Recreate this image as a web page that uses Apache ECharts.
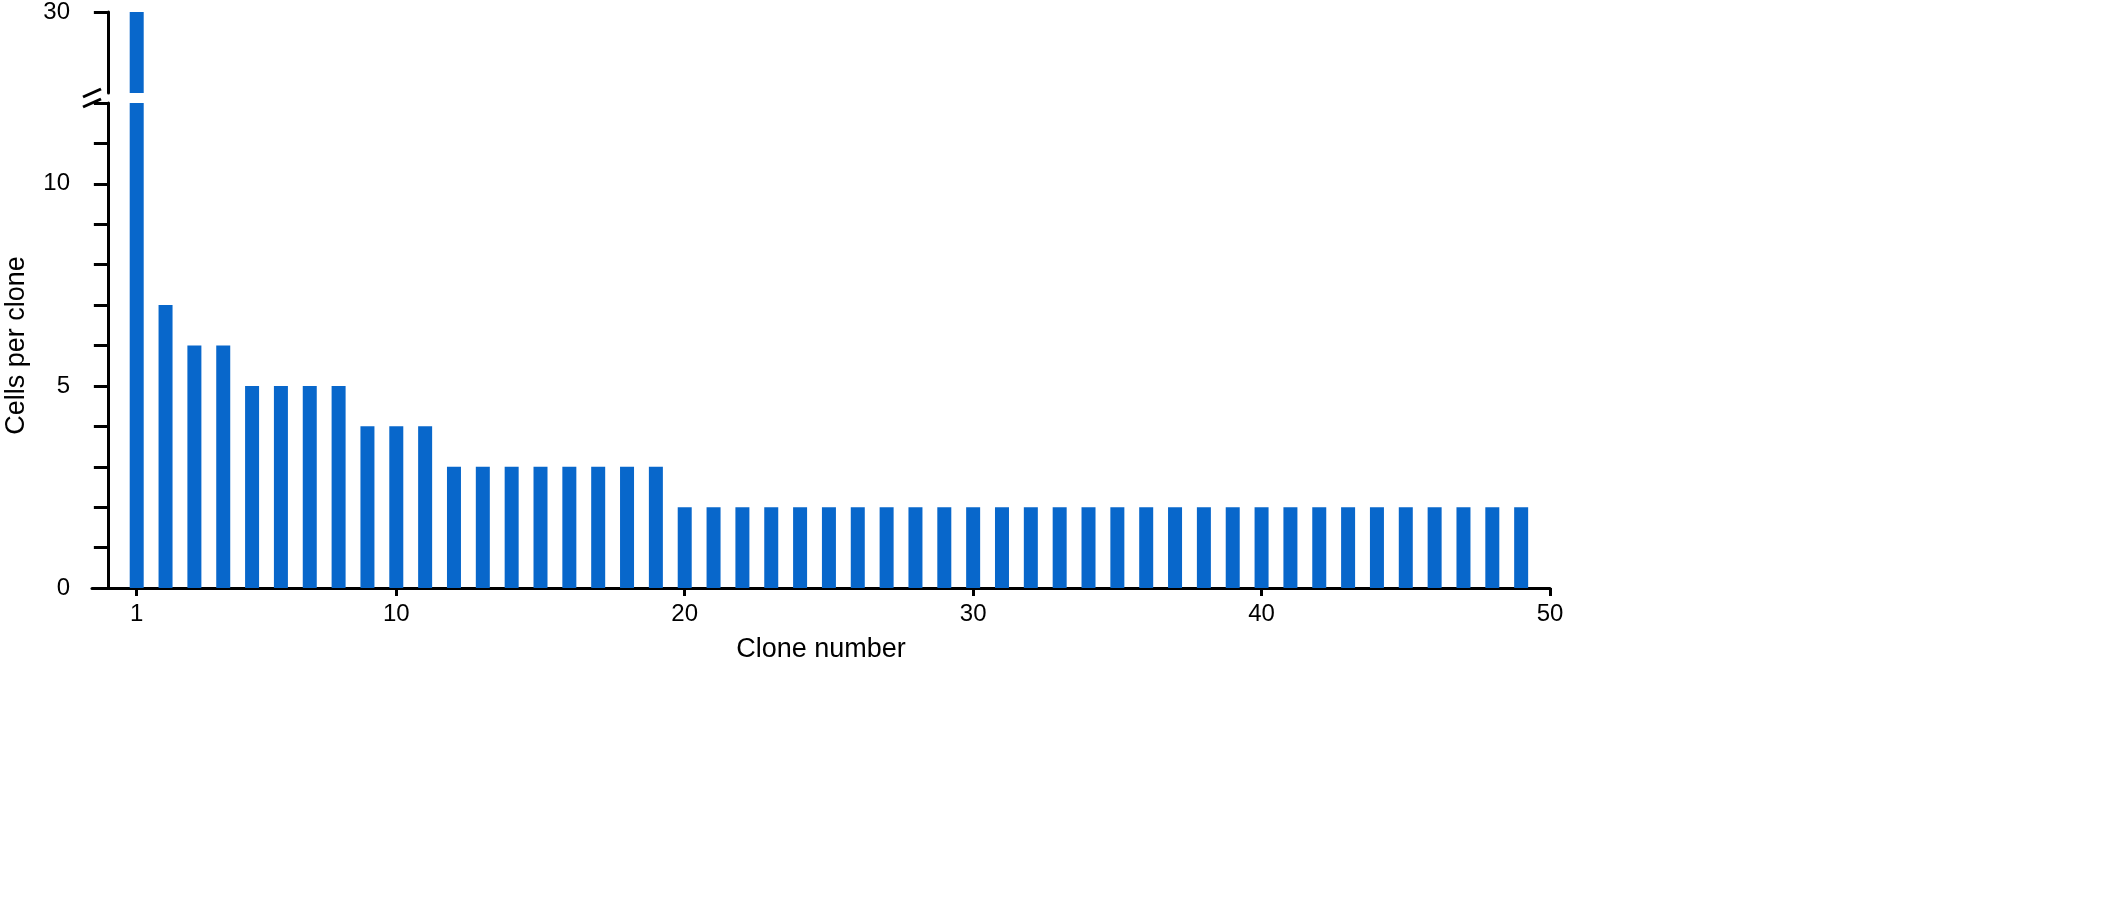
<!DOCTYPE html>
<html>
<head>
<meta charset="utf-8">
<script src="https://cdn.jsdelivr.net/npm/echarts@6/dist/echarts.min.js"></script>
<style>html,body{margin:0;padding:0;background:#fff}#chart{width:2115px;height:923px}</style>
</head>
<body>
<div id="chart"></div>
<script>
// clone number 1..49, cells per clone
const clones = Array.from({ length: 49 }, (_, i) => i + 1);
const cells = [30, 7, 6, 6, 5, 5, 5, 5, 4, 4, 4, 3, 3, 3, 3, 3, 3, 3, 3,
  2, 2, 2, 2, 2, 2, 2, 2, 2, 2, 2, 2, 2, 2, 2, 2, 2, 2, 2, 2, 2,
  2, 2, 2, 2, 2, 2, 2, 2, 2];
const xTicks = [1, 10, 20, 30, 40, 50];
const yTicksLabeled = [0, 5, 10];

const lowMax = 12;
const highMin = 28, highMax = 30;
const barColor = "#0867cb";
const font = "Liberation Sans";

const chart = echarts.init(document.getElementById("chart"));

const lowData = clones.map((c, i) => [c, Math.min(cells[i], lowMax)]);
const highData = clones.map((c, i) => cells[i] > highMin ? [c, cells[i]] : null).filter(Boolean);

const xBase = {
  type: "value", min: -0.55, max: 50,
  splitLine: { show: false }
};

chart.setOption({
  animation: false,
  grid: [
    { left: 92, width: 1458, top: 103, height: 485, outerBoundsMode: "none", containLabel: false },
    { left: 92, width: 1458, top: 12, height: 81, outerBoundsMode: "none", containLabel: false }
  ],
  xAxis: [
    Object.assign({}, xBase, {
      gridIndex: 0,
      name: "Clone number", nameLocation: "middle", nameGap: 48,
      nameTextStyle: { fontSize: 27, color: "#000", fontFamily: font },
      axisLine: { lineStyle: { color: "#000", width: 3 } },
      axisTick: { customValues: xTicks, length: 8, lineStyle: { color: "#000", width: 3 } },
      axisLabel: { customValues: xTicks, fontSize: 24, color: "#000", fontFamily: font, margin: 14 }
    }),
    Object.assign({}, xBase, {
      gridIndex: 1, show: false
    })
  ],
  yAxis: [
    {
      type: "value", gridIndex: 0, min: 0, max: lowMax, interval: 1,
      name: "Cells per clone", nameLocation: "middle", nameGap: 62,
      nameTextStyle: { fontSize: 27, color: "#000", fontFamily: font },
      splitLine: { show: false },
      axisLine: { show: true, lineStyle: { color: "#000", width: 3 } },
      axisTick: { show: true, length: 14, lineStyle: { color: "#000", width: 3 } },
      axisLabel: {
        customValues: yTicksLabeled, fontSize: 24, color: "#000", fontFamily: font, margin: 22
      }
    },
    {
      type: "value", gridIndex: 1, min: highMin, max: highMax,
      splitLine: { show: false },
      axisLine: { show: true, lineStyle: { color: "#000", width: 3 } },
      axisTick: { show: true, customValues: [highMax], length: 14, lineStyle: { color: "#000", width: 3 } },
      axisLabel: { customValues: [highMax], fontSize: 24, color: "#000", fontFamily: font, margin: 22 }
    }
  ],
  series: [
    { type: "bar", xAxisIndex: 0, yAxisIndex: 0, data: lowData, barWidth: 14,
      itemStyle: { color: barColor } },
    { type: "bar", xAxisIndex: 1, yAxisIndex: 1, data: highData, barWidth: 14,
      itemStyle: { color: barColor } }
  ]
});

// axis break marks
const pLow = chart.convertToPixel({ xAxisIndex: 0, yAxisIndex: 0 }, [-0.55, lowMax]);
const pHigh = chart.convertToPixel({ xAxisIndex: 1, yAxisIndex: 1 }, [-0.55, highMin]);
const mark = (x, y) => ({
  type: "line",
  shape: { x1: x - 9, y1: y + 4, x2: x + 9, y2: y - 4 },
  style: { stroke: "#000", lineWidth: 3 }
});
chart.setOption({
  graphic: [mark(pLow[0], pLow[1]), mark(pHigh[0], pHigh[1])]
});
</script>
</body>
</html>
